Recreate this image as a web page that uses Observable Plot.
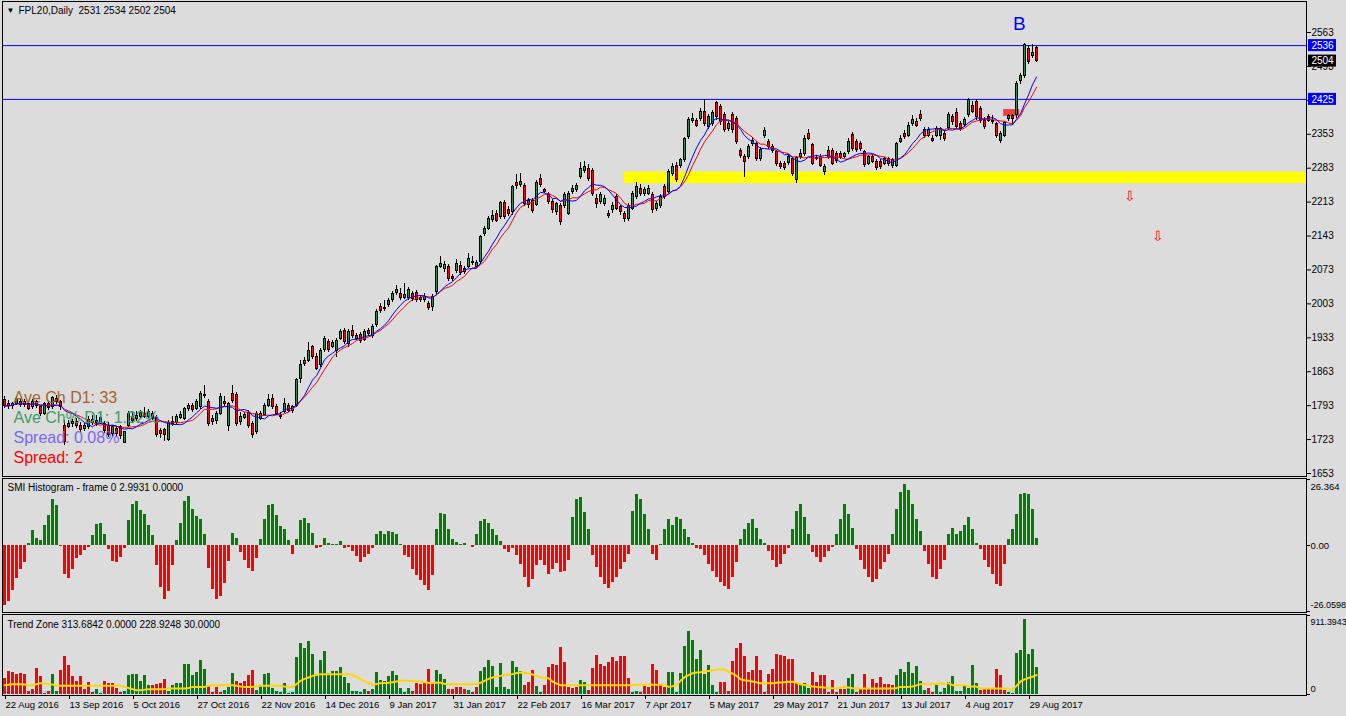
<!DOCTYPE html>
<html><head><meta charset="utf-8">
<script src="https://cdn.jsdelivr.net/npm/d3@7"></script>
<script src="https://cdn.jsdelivr.net/npm/@observablehq/plot@0.6"></script>
<style>
html,body{margin:0;padding:0;background:#dcdcdc;}
#chart{width:1346px;height:716px;overflow:hidden;position:relative;}
#chart svg{display:block;}
</style></head><body><div id="chart"></div>
<script>
// ---------- DATA ----------
const opens = [
1804,1797,1793,1797,1800,1795,1797,1790,1800,1790,
1776,1796,1790,1806,1800,1752,1748,1755,1760,1752,
1745,1748,1764,1758,1760,1755,1752,1734,1745,1748,
1716,1752,1770,1766,1770,1776,1770,1775,1768,1740,
1742,1722,1756,1758,1768,1766,1786,1792,1786,1790,
1815,1800,1760,1762,1776,1800,1752,1817,1815,1760,
1768,1778,1755,1738,1766,1773,1793,1807,1791,1772,
1780,1793,1782,1793,1848,1886,1886,1914,1893,1876,
1907,1924,1915,1905,1931,1947,1921,1948,1931,1938,
1929,1948,1936,1960,1996,1992,2001,2010,2026,2024,
2015,2015,2024,2026,2010,2011,2003,1996,2027,2080,
2075,2079,2059,2071,2082,2068,2080,2087,2080,2089,
2148,2158,2176,2189,2183,2211,2197,2192,2252,2249,
2247,2208,2216,2207,2260,2237,2227,2213,2192,2206,
2206,2189,2233,2237,2265,2278,2282,2278,2220,2213,
2209,2189,2196,2223,2202,2189,2178,2199,2223,2240,
2230,2230,2227,2199,2206,2244,2234,2271,2288,2288,
2299,2347,2380,2380,2385,2399,2368,2375,2417,2409,
2392,2364,2392,2385,2319,2306,2306,2333,2333,2302,
2350,2337,2326,2316,2291,2292,2293,2302,2258,2306,
2313,2354,2330,2305,2306,2275,2319,2319,2313,2313,
2306,2316,2352,2337,2333,2316,2292,2306,2296,2296,
2292,2302,2287,2288,2337,2354,2350,2375,2378,2393,
2361,2350,2344,2350,2350,2354,2366,2388,2397,2374,
2372,2392,2412,2419,2405,2381,2388,2381,2374,2340,
2350,2385,2390,2392,2462,2474,2529,2515,2531];
const highs = [
1812,1803,1800,1812,1806,1805,1802,1806,1804,1793,
1800,1802,1812,1813,1804,1762,1762,1765,1766,1758,
1756,1770,1772,1772,1775,1760,1758,1752,1750,1752,
1740,1780,1778,1780,1783,1790,1786,1780,1772,1745,
1746,1762,1770,1775,1780,1790,1798,1798,1806,1822,
1834,1806,1772,1780,1818,1812,1800,1834,1820,1778,
1778,1782,1760,1780,1780,1797,1815,1817,1795,1778,
1808,1797,1793,1848,1886,1893,1924,1918,1900,1910,
1936,1929,1927,1931,1950,1952,1950,1958,1941,1943,
1950,1952,1960,1991,2003,2010,2015,2028,2040,2034,
2045,2036,2028,2030,2020,2024,2008,2022,2082,2101,
2090,2084,2064,2095,2090,2080,2106,2101,2093,2145,
2163,2183,2195,2196,2214,2216,2203,2248,2270,2272,
2252,2220,2220,2258,2270,2241,2232,2218,2212,2210,
2232,2234,2248,2252,2295,2296,2290,2282,2228,2232,
2226,2196,2212,2228,2206,2194,2210,2235,2254,2250,
2244,2247,2232,2214,2228,2250,2280,2292,2294,2304,
2347,2388,2396,2386,2406,2424,2394,2403,2420,2415,
2398,2380,2398,2390,2324,2312,2332,2346,2338,2326,
2366,2342,2332,2320,2296,2297,2312,2306,2308,2322,
2350,2362,2335,2310,2312,2290,2328,2324,2318,2318,
2316,2345,2356,2342,2338,2320,2310,2312,2300,2300,
2306,2306,2304,2337,2350,2360,2378,2392,2386,2402,
2366,2368,2350,2370,2368,2360,2398,2394,2406,2380,
2388,2426,2420,2424,2410,2388,2394,2392,2378,2358,
2380,2394,2394,2462,2478,2540,2537,2538,2534];
const lows = [
1788,1786,1786,1793,1790,1790,1783,1786,1788,1770,
1772,1783,1786,1795,1784,1710,1745,1748,1745,1736,
1740,1744,1752,1750,1755,1736,1728,1728,1728,1724,
1714,1748,1757,1760,1765,1766,1766,1762,1728,1725,
1718,1718,1750,1752,1765,1762,1780,1778,1782,1786,
1808,1750,1752,1755,1772,1792,1740,1798,1750,1752,
1765,1745,1725,1734,1762,1770,1790,1786,1772,1765,
1776,1778,1776,1790,1838,1874,1882,1888,1865,1872,
1903,1903,1910,1893,1927,1920,1914,1931,1927,1922,
1925,1936,1931,1955,1984,1988,1996,2006,2020,2010,
2012,2010,2008,2006,2005,2006,1990,1988,2022,2075,
2068,2050,2050,2066,2062,2064,2075,2082,2075,2085,
2143,2154,2170,2170,2178,2178,2184,2186,2240,2244,
2204,2200,2190,2203,2244,2230,2208,2190,2186,2165,
2200,2185,2228,2232,2260,2272,2256,2225,2200,2208,
2204,2180,2190,2195,2185,2170,2173,2195,2218,2225,
2225,2226,2190,2194,2200,2218,2229,2265,2253,2282,
2294,2342,2375,2366,2380,2370,2362,2370,2382,2372,
2356,2358,2355,2332,2302,2263,2300,2328,2296,2296,
2345,2322,2314,2286,2280,2278,2288,2266,2252,2300,
2308,2340,2288,2298,2284,2268,2300,2288,2292,2300,
2302,2312,2318,2316,2318,2284,2288,2292,2278,2280,
2288,2286,2283,2284,2333,2343,2346,2370,2366,2380,
2344,2346,2336,2346,2340,2338,2360,2372,2362,2358,
2366,2388,2396,2382,2376,2362,2378,2374,2344,2333,
2346,2380,2371,2386,2456,2468,2498,2510,2502];
const closes = [
1792,1793,1796,1807,1795,1800,1787,1800,1792,1776,
1796,1788,1808,1800,1790,1717,1755,1760,1750,1742,
1750,1764,1758,1762,1768,1740,1733,1748,1735,1730,
1738,1776,1762,1772,1778,1770,1779,1766,1733,1735,
1733,1758,1760,1770,1774,1786,1793,1784,1800,1817,
1812,1755,1765,1775,1810,1797,1797,1803,1755,1770,
1773,1750,1733,1776,1776,1793,1804,1790,1776,1769,
1797,1782,1790,1845,1876,1878,1905,1893,1869,1905,
1931,1907,1922,1927,1945,1924,1945,1936,1936,1927,
1945,1941,1955,1987,1988,1994,2008,2024,2032,2015,
2022,2031,2014,2010,2015,2018,1995,2017,2079,2086,
2084,2055,2055,2086,2067,2075,2095,2090,2088,2141,
2158,2178,2185,2175,2211,2183,2189,2244,2246,2254,
2209,2216,2195,2252,2249,2234,2213,2196,2209,2171,
2227,2230,2240,2247,2282,2285,2261,2230,2209,2227,
2220,2185,2206,2199,2192,2178,2206,2230,2244,2230,
2237,2240,2196,2209,2223,2223,2275,2285,2258,2299,
2343,2383,2385,2371,2399,2375,2388,2397,2388,2378,
2361,2375,2361,2337,2309,2295,2326,2340,2302,2321,
2359,2326,2319,2291,2285,2283,2306,2271,2304,2313,
2344,2344,2292,2302,2288,2286,2304,2292,2297,2304,
2312,2338,2323,2320,2323,2289,2306,2296,2283,2285,
2302,2292,2299,2333,2344,2347,2371,2382,2371,2385,
2350,2361,2340,2364,2363,2344,2393,2378,2368,2364,
2383,2423,2400,2388,2381,2367,2381,2378,2350,2354,
2376,2390,2385,2457,2473,2537,2502,2521,2504];
const smiValues = [
-23.8,-22.2,-17.9,-13.0,-9.5,-6.6,0.8,6.0,3.0,2.0,
8.3,11.9,18.3,15.9,-0.3,-11.5,-13.0,-9.5,-5.0,-4.0,
-2.0,-0.7,4.0,8.6,9.0,4.4,-1.6,-6.0,-6.4,-4.6,
-1.1,9.9,16.3,17.5,13.9,12.6,8.3,4.0,-7.9,-16.5,
-21.4,-18.3,-7.9,2.0,9.0,17.5,19.5,14.6,11.6,10.3,
4.6,-9.0,-17.2,-21.4,-20.1,-15.0,-6.0,5.0,2.9,-2.6,
-5.6,-9.0,-10.2,-5.0,2.4,10.3,16.2,16.5,12.2,7.9,
6.6,2.0,-3.6,2.4,9.9,10.9,8.9,5.0,-1.1,-0.7,
2.9,1.1,0.5,0.7,1.6,-1.1,-0.7,-2.4,-4.4,-6.6,
-4.6,-3.6,-1.1,4.6,5.6,4.4,5.6,5.3,4.6,0.4,
-4.0,-4.6,-9.5,-11.9,-13.9,-15.9,-17.9,-11.6,6.4,13.0,
12.6,6.6,2.4,1.2,0.4,0.8,0.2,-0.8,4.4,9.5,
10.3,8.7,6.4,4.0,1.6,-1.6,-2.8,-1.2,-4.0,-7.5,
-12.7,-16.7,-13.5,-7.9,-5.6,-7.9,-11.5,-9.5,-6.8,-10.7,
-10.3,-5.6,11.1,18.3,19.1,13.1,6.4,-4.0,-8.7,-12.7,
-15.5,-17.1,-14.7,-12.7,-9.5,-6.4,-3.6,13.5,20.3,18.3,
12.3,6.4,-3.6,-5.6,0.4,6.4,10.3,8.3,11.1,10.3,
6.4,3.2,0.8,-1.2,-1.6,-4.0,-7.5,-10.3,-12.7,-14.7,
-16.3,-17.5,-12.7,-6.4,2.4,6.4,8.7,10.3,7.1,2.4,
0.8,-2.4,-5.6,-8.7,-7.5,-3.6,-1.2,6.4,13.5,16.3,
11.1,4.4,-2.8,-4.8,-6.4,-4.8,-2.4,-0.8,4.4,10.3,
16.3,12.3,7.1,-1.6,-5.6,-9.5,-12.7,-14.7,-13.5,-9.5,
-6.4,-3.6,4.4,14.3,21.4,24.2,22.2,16.3,10.3,5.6,
-2.4,-7.5,-12.7,-13.5,-9.5,-5.6,4.4,7.1,4.4,5.6,
8.3,11.1,6.4,0.8,-1.6,-5.6,-8.7,-11.5,-15.5,-16.3,
-7.5,2.4,6.4,12.3,20.3,21.0,20.3,14.3,3.0];
const tzValues = [
188,265,254,235,242,235,35,62,300,208,
15,35,235,31,281,435,331,204,150,204,
54,138,23,62,10,150,131,127,69,23,
35,223,235,227,146,223,108,100,112,131,
177,35,108,127,127,350,350,223,254,396,
285,88,23,81,23,50,81,242,150,127,
146,223,281,42,92,227,242,73,35,23,
127,15,23,427,588,531,608,458,235,388,
492,246,262,262,312,196,127,35,31,23,
54,31,54,254,158,150,208,262,223,69,
23,69,35,127,119,127,285,127,281,235,
177,54,54,81,81,54,42,23,81,265,
312,388,323,81,358,81,54,381,312,265,
108,138,281,92,23,108,312,350,338,542,
369,81,69,81,158,138,42,300,446,350,
323,369,427,377,435,435,185,23,35,23,
92,81,342,281,100,81,254,254,23,242,
554,727,627,408,504,235,338,108,23,138,
138,31,377,531,588,435,254,281,435,281,
23,235,292,465,446,438,408,400,131,108,
127,69,254,138,223,223,23,165,23,54,
54,185,235,23,54,235,62,177,131,196,
119,119,108,223,292,254,369,242,323,150,
50,69,23,108,23,69,138,208,31,35,
88,69,338,131,50,62,54,54,285,223,
50,23,8,473,504,869,458,515,312];
// u = up (green) bar, d = down (red) bar
const tzTrend = (
"dddddddddd"+"dduudddddd"+"ddduuddddd"+"uuuuuuuddd"+"duuuuuuuuu"+
"udddduuudd"+"ddduuuuuuu"+"uuuuuuuuuu"+"uuuuuuuuuu"+"uduuuuuuuu"+
"uudddddduu"+"uddddduddu"+"uuuuuuuuuu"+"ddduuddddd"+"dddduudddd"+
"ddddddduud"+"dddddduuuu"+"uuuuuuuuud"+"dddddddddd"+"dddddddddu"+
"uudddddddd"+"duuddddddd"+"ddduuuuuuu"+"udduuuuuuu"+"uuuudddddd"+
"duduuuuuu").split("");
const tzSignal = [
108,112,119,119,119,115,108,108,119,131,
128,122,115,105,100,100,100,100,100,100,
100,100,100,100,100,100,100,100,100,100,
88,75,62,50,50,55,62,62,62,62,
62,69,69,69,69,69,75,88,88,88,
88,100,108,108,108,108,108,108,100,92,
88,88,88,95,100,100,100,100,100,100,
92,88,88,119,158,180,196,215,225,235,
235,235,235,235,235,235,235,225,205,177,
155,131,112,120,131,133,136,142,150,158,
158,158,155,152,150,142,135,133,138,135,
125,119,119,119,119,119,119,119,125,135,
158,180,196,205,215,227,227,235,248,254,
250,242,230,215,200,190,188,150,125,108,
108,108,108,108,108,108,108,108,108,108,
108,108,108,108,108,108,108,110,112,112,
112,112,112,112,112,112,88,95,108,158,
200,223,245,254,258,265,272,280,287,292,
285,265,240,215,177,165,158,150,140,131,
131,131,131,135,138,142,146,146,135,119,
110,100,92,88,85,81,75,72,69,78,
88,80,72,69,69,69,69,69,69,69,
69,69,69,75,88,88,88,92,105,119,
119,119,119,125,131,119,131,108,108,108,
108,92,92,92,69,69,69,69,69,69,
69,62,54,100,150,175,190,205,225];
const tzLevel = 30;
const dateLabels = ["22 Aug 2016","13 Sep 2016","5 Oct 2016","27 Oct 2016","22 Nov 2016","14 Dec 2016","9 Jan 2017","31 Jan 2017","22 Feb 2017","16 Mar 2017","7 Apr 2017","5 May 2017","29 May 2017","21 Jun 2017","13 Jul 2017","4 Aug 2017","29 Aug 2017"];
const dateTickBars = [0,16,32,48,64,80,96,112,128,144,160,176,192,208,224,240,256];
const priceTicks = [1653,1723,1793,1863,1933,2003,2073,2143,2213,2283,2353,2423,2493,2563];
const levelPrices = [2536, 2425];
const lastPrice = [2504];
const zoneBars = [155];          // yellow zone starts at this bar and runs to the right edge
const zoneLow = [2251], zoneHigh = [2275];
const markBars = [249.8, 253.8], markLow = [2390], markHigh = [2404];
const arrowBars = [281.4, 288.4], arrowPrices = [2225, 2142];
const waveBars = [253.7], wavePrices = [2580], waveNames = ["B"];
const infoLabels = ["Ave Ch D1: 33", "Ave Ch% D1: 1.32%", "Spread: 0.08%", "Spread: 2"];
const titleText = "FPL20,Daily\u00a0\u00a02531 2534 2502 2504";
const smiTitle = "SMI Histogram - frame 0 2.9931 0.0000";
const tzTitle = "Trend Zone 313.6842 0.0000 228.9248 30.0000";
const smiTicks = [26.364, 0, -26.0598], smiTickText = ["26.364", "0.00", "-26.0598"];
const tzTicks = [911.3943, 0], tzTickText = ["911.3943", "0"];

// ---------- STYLE / LAYOUT ----------
const W = 1346, ML = 2, MR = 40;
const X_DOMAIN = [-0.5, 325.5];
const FONT = "'Liberation Sans', Arial, sans-serif";
const BG = "#dcdcdc";
const infoColors = ["#a3652f", "#3d9b69", "#7b68ee", "#ff0000"];
const infoDy = [-79, -59, -39, -19];

function frameOpts(h, mt, mb, ydomain) {
  return {
    width: W, height: h, marginLeft: ML, marginRight: MR, marginTop: mt, marginBottom: mb,
    style: {background: BG, fontFamily: FONT, fontSize: "10px", color: "black", overflow: "visible"},
    x: {domain: X_DOMAIN, axis: null},
    y: {domain: ydomain, axis: null}
  };
}

const candles = closes.map((c, i) => ({i, o: opens[i], h: highs[i], l: lows[i], c}));
const smiData = smiValues.map((v, i) => ({i, v}));
const tzData = tzValues.map((v, i) => ({i, v, t: tzTrend[i], s: tzSignal[i]}));
const XR = X_DOMAIN[1];
const rightTick = (ticks) => Plot.ruleY(ticks, {x1: () => XR, x2: () => XR + 1, stroke: "black", shapeRendering: "crispEdges"});
const rightLabel = (v, t, dy, size) => Plot.text([t], {frameAnchor: "right", y: () => v, dx: 4, dy, text: d => d, textAnchor: "start", fontSize: size});

// ---------- MAIN PRICE PANEL ----------
const main = Plot.plot({
  ...frameOpts(477, 1, 1, [1646.8, 2627]),
  marks: [
    Plot.rect(zoneBars, {x1: d => d, x2: () => XR, y1: (d, k) => zoneLow[k], y2: (d, k) => zoneHigh[k], fill: "#ffff00"}),
    Plot.text(["\u25bc"], {frameAnchor: "top-left", dx: 4, dy: 9, text: d => d, fontSize: 8, textAnchor: "start", lineAnchor: "middle"}),
    Plot.text([titleText], {frameAnchor: "top-left", dx: 16, dy: 9, text: d => d, fontSize: 10, textAnchor: "start", lineAnchor: "middle"}),
    Plot.rect([0], {x1: () => markBars[0], x2: () => markBars[1], y1: () => markLow[0], y2: () => markHigh[0], fill: "#ef4040"}),
    Plot.ruleY(levelPrices, {stroke: "#0000ff", strokeWidth: 1}),
    Plot.ruleX(candles, {x: "i", y1: "l", y2: "h", stroke: "black", shapeRendering: "crispEdges"}),
    Plot.rect(candles, {filter: d => d.c >= d.o, x1: d => d.i - 0.25, x2: d => d.i + 0.25, y1: "o", y2: "c", fill: "#2e8b57", stroke: "black", shapeRendering: "crispEdges"}),
    Plot.rect(candles, {filter: d => d.c < d.o, x1: d => d.i - 0.25, x2: d => d.i + 0.25, y1: "o", y2: "c", fill: "#ff0000", stroke: "black", shapeRendering: "crispEdges"}),
    Plot.line(candles, Plot.windowY({k: 10, anchor: "end"}, {x: "i", y: "c", stroke: "#ff0000", strokeWidth: 1})),
    Plot.line(candles, Plot.windowY({k: 8, anchor: "end"}, {x: "i", y: "c", stroke: "#0000ff", strokeWidth: 1})),
    ...infoLabels.map((t, k) => Plot.text([t], {frameAnchor: "bottom-left", dx: 11, dy: infoDy[k], text: d => d, fill: infoColors[k], fontSize: 16, textAnchor: "start", lineAnchor: "middle"})),
    Plot.text(arrowBars, {x: d => d, y: (d, k) => arrowPrices[k], text: () => "\u21e9", fill: "#ff0000", fontSize: 14}),
    Plot.text(waveBars, {x: d => d, y: (d, k) => wavePrices[k], text: (d, k) => waveNames[k], fill: "#0000ff", fontSize: 19}),
    Plot.axisY({anchor: "right", ticks: priceTicks, tickSize: 4, tickPadding: 1, tickFormat: d => String(d), fontSize: 10}),
    Plot.rect(levelPrices, {x1: () => XR + 0.5, x2: () => XR + 7.5, y1: d => d - 12.4, y2: d => d + 12.4, fill: "#0000ff"}),
    Plot.rect(lastPrice, {x1: () => XR + 0.5, x2: () => XR + 7.5, y1: d => d - 12.4, y2: d => d + 12.4, fill: "#000000"}),
    Plot.text([...levelPrices, ...lastPrice], {frameAnchor: "right", y: d => d, dx: 16, text: d => String(d), fill: "white", fontSize: 10, textAnchor: "middle"}),
    Plot.frame({stroke: "black"})
  ]
});

// ---------- SMI HISTOGRAM PANEL ----------
const smiPlot = Plot.plot({
  ...frameOpts(136, 1, 1, [-26.45, 26.77]),
  marks: [
    Plot.rect(smiData, {filter: d => d.v >= 0, x1: d => d.i - 0.375, x2: d => d.i + 0.375, y1: 0, y2: "v", fill: "#008000", shapeRendering: "crispEdges"}),
    Plot.rect(smiData, {filter: d => d.v < 0, x1: d => d.i - 0.375, x2: d => d.i + 0.375, y1: 0, y2: "v", fill: "#ff0000", shapeRendering: "crispEdges"}),
    Plot.text([smiTitle], {frameAnchor: "top-left", dx: 5, dy: 9, text: d => d, fontSize: 10, textAnchor: "start", lineAnchor: "middle"}),
    rightTick(smiTicks),
    rightLabel(smiTicks[0], smiTickText[0], 7, 9.5),
    rightLabel(smiTicks[1], smiTickText[1], 0, 9.5),
    rightLabel(smiTicks[2], smiTickText[2], -6, 9),
    Plot.frame({stroke: "black"})
  ]
});

// ---------- TREND ZONE PANEL ----------
const tzPlot = Plot.plot({
  ...frameOpts(103, 1, 21, [-11.5, 922.9]),
  marks: [
    Plot.line(tzData, {x: "i", y: () => tzLevel, stroke: "#00e8e8", strokeDasharray: "2,2", strokeWidth: 1}),
    Plot.rect(tzData, {filter: d => d.t === "u", x1: d => d.i - 0.375, x2: d => d.i + 0.375, y1: 0, y2: "v", fill: "#008000", shapeRendering: "crispEdges"}),
    Plot.rect(tzData, {filter: d => d.t === "d", x1: d => d.i - 0.375, x2: d => d.i + 0.375, y1: 0, y2: "v", fill: "#ff0000", shapeRendering: "crispEdges"}),
    Plot.line(tzData, {x: "i", y: "s", stroke: "#ffd700", strokeWidth: 2}),
    Plot.text([tzTitle], {frameAnchor: "top-left", dx: 5, dy: 10, text: d => d, fontSize: 10, textAnchor: "start", lineAnchor: "middle"}),
    rightTick(tzTicks),
    rightLabel(tzTicks[0], tzTickText[0], 7, 8.8),
    rightLabel(tzTicks[1], tzTickText[1], -6, 9.5),
    Plot.axisX({anchor: "bottom", ticks: dateTickBars, tickFormat: d => dateLabels[dateTickBars.indexOf(d)], tickSize: 4, tickPadding: 2, textAnchor: "start", dx: 1, fontSize: 9.5, label: null}),
    Plot.frame({stroke: "black"})
  ]
});

const host = document.getElementById("chart");
host.append(main, smiPlot, tzPlot);
</script>
</body></html>
